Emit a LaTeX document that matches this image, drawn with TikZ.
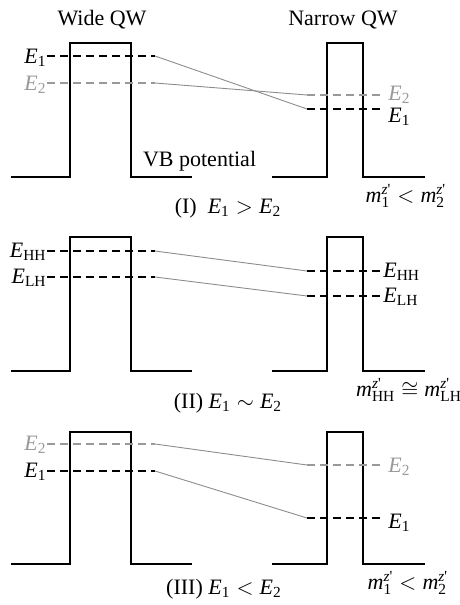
\documentclass[tikz,border=0pt]{standalone}
\usepackage{amsmath}
\usepackage{fontspec}
\setmainfont{Liberation Serif}

\newcommand{\En}[1]{\textit{E}_{\text{#1}}}
\newcommand{\mz}[1]{\textit{m}^{\text{\textit{z}\textquotesingle}}_{\text{#1}}}

\begin{document}
\begin{tikzpicture}[
    x=0.5pt, y=-0.5pt,
    font=\fontsize{11}{13}\selectfont,
    well/.style={line width=1pt},
    level/.style={line width=0.9pt, dash pattern=on 4pt off 2.5pt},
    link/.style={black!45, line width=0.45pt},
    lbl/.style={inner sep=0pt},
    pale/.style={black!40}
  ]
  \useasboundingbox (0,0) rectangle (460,605);

  % --- Titulos ---
  \node (wide) at (102,20) {Wide QW};
  \node (narrow) at (343,20) {Narrow QW};

  % --- Pozos ---
  \foreach \t/\b in {43/177, 237/371, 432/564} {
    \draw[well] (11,\b) -- (70,\b) -- (70,\t) -- (131,\t) -- (131,\b) -- (192,\b);
    \draw[well] (272,\b) -- (327,\b) -- (327,\t) -- (363,\t) -- (363,\b) -- (425,\b);
  }
  \node[anchor=west] (vb) at (136,161) {VB potential};

  % --- Niveles ---
  \foreach \n/\yl/\yr/\c in {a/56/109/black, b/83/95/black!40,
                              c/251/271/black, d/277/296/black,
                              e/444/465/black!40, f/471/518/black} {
    \coordinate (\n1) at (47,\yl);
    \coordinate (\n2) at (155,\yl);
    \coordinate (\n3) at (307,\yr);
    \coordinate (\n4) at (382,\yr);
    \draw[level, draw=\c] (\n1) -- (\n2);
    \draw[link] (\n2) -- (\n3);
    \draw[level, draw=\c] (\n3) -- (\n4);
  }

  % --- Etiquetas (I) ---
  \node[lbl, anchor=base east, yshift=-3.5pt] (la) at (a1) {$\En{1}$};
  \node[lbl, pale, anchor=base east, yshift=-3.5pt] (lb) at (b1) {$\En{2}$};
  \node[lbl, pale, anchor=base west, xshift=3pt, yshift=-2.5pt] (rb) at (b4) {$\En{2}$};
  \node[lbl, anchor=base west, xshift=3pt, yshift=-6.5pt] (ra) at (a4) {$\En{1}$};

  % --- Etiquetas (II) ---
  \node[lbl, anchor=base east, yshift=-3pt] (lc) at (c1) {$\En{HH}$};
  \node[lbl, anchor=base east, yshift=-3pt] (ld) at (d1) {$\En{LH}$};
  \node[lbl, anchor=base west, xshift=0.5pt, yshift=-3pt] (rc) at (c4) {$\En{HH}$};
  \node[lbl, anchor=base west, xshift=0.5pt, yshift=-3pt] (rd) at (d4) {$\En{LH}$};

  % --- Etiquetas (III) ---
  \node[lbl, pale, anchor=base east, yshift=-3pt] (le) at (e1) {$\En{2}$};
  \node[lbl, anchor=base east, yshift=-3pt] (lf) at (f1) {$\En{1}$};
  \node[lbl, pale, anchor=base west, xshift=3pt, yshift=-3.5pt] (re) at (e4) {$\En{2}$};
  \node[lbl, anchor=base west, xshift=3pt, yshift=-5pt] (rf) at (f4) {$\En{1}$};

  % --- Condiciones ---
  \node (capI) at (228,208) {(I)\ \ $\En{1} > \En{2}$};
  \node (massI) at (406,196) {$\mz{1} < \mz{2}$};
  \node (capII) at (228,403) {(II) $\En{1} \sim \En{2}$};
  \node (massII) at (409,390) {$\mz{HH} \cong \mz{LH}$};
  \node (capIII) at (224,589) {(III) $\En{1} < \En{2}$};
  \node (massIII) at (408,583) {$\mz{1} < \mz{2}$};

\end{tikzpicture}
\end{document}
